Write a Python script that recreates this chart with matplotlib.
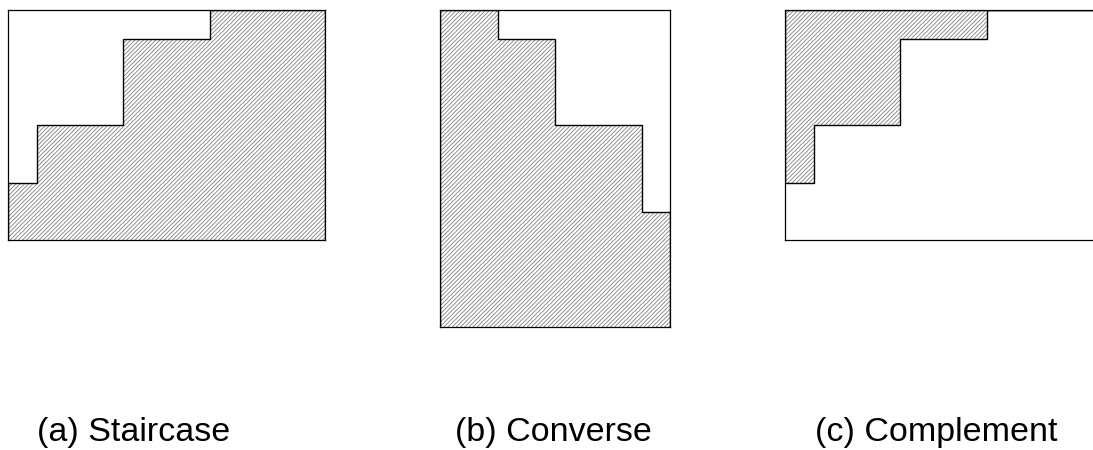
import numpy as np
import matplotlib
matplotlib.use("Agg")
import matplotlib.pyplot as plt

plt.rcParams['font.family'] = ['Liberation Sans', 'DejaVu Sans']
plt.rcParams['hatch.linewidth'] = 0.6

# ---- data (grid units) ----
stair_widths = [1, 3, 3, 4]          # column widths of the staircase
stair_heights = [2, 4, 7, 8]         # column heights of the staircase
grid_w, grid_h = 11, 8

conv_widths = [2, 2, 3, 1]           # converse (transpose) column widths
conv_heights = [11, 10, 7, 4]        # converse column heights
conv_w, conv_h = 8, 11

labels = ["(a) Staircase", "(b) Converse", "(c) Complement"]

W, H = 1093, 450
fig = plt.figure(figsize=(W / 100, H / 100), dpi=100)
fig.patch.set_facecolor('white')

HATCH_COL = '#808080'
HATCH = '////////'


def make_ax(left, top, width, height, xmax, ymax):
    ax = fig.add_axes([left / W, 1 - (top + height) / H, width / W, height / H])
    ax.set_xlim(0, xmax)
    ax.set_ylim(0, ymax)
    ax.set_xticks([])
    ax.set_yticks([])
    for s in ax.spines.values():
        s.set_linewidth(0.9)
        s.set_color('black')
    ax.set_facecolor('white')
    return ax


unit = 28.8

# (a) Staircase
ax = make_ax(8, 10, grid_w * unit, grid_h * unit, grid_w, grid_h)
edges = np.concatenate([[0], np.cumsum(stair_widths)])
ax.bar(edges[:-1], stair_heights, width=stair_widths, align='edge',
       fill=False, hatch=HATCH, edgecolor=HATCH_COL, linewidth=0)
ax.stairs(stair_heights, edges, baseline=0, color='black', linewidth=1.0)

# (b) Converse
ax = make_ax(440, 10, conv_w * unit, conv_h * unit, conv_w, conv_h)
cedges = np.concatenate([[0], np.cumsum(conv_widths)])
ax.bar(cedges[:-1], conv_heights, width=conv_widths, align='edge',
       fill=False, hatch=HATCH, edgecolor=HATCH_COL, linewidth=0)
ax.stairs(conv_heights, cedges, baseline=0, color='black', linewidth=1.0)

# (c) Complement
ax = make_ax(785, 10, grid_w * unit, grid_h * unit, grid_w, grid_h)
tops = np.full(len(stair_heights), grid_h)
comp = tops - np.array(stair_heights)
ax.bar(edges[:-1], comp, width=stair_widths, bottom=stair_heights, align='edge',
       fill=False, hatch=HATCH, edgecolor=HATCH_COL, linewidth=0)
ax.stairs(tops, edges, baseline=stair_heights, color='black', linewidth=1.0)

# captions
for x, lab in zip([37, 455, 815], labels):
    fig.text(x / W, 1 - 441 / H, lab, ha='left', va='baseline', fontsize=24.5)

fig.savefig('out.png', dpi=100, facecolor='white')
